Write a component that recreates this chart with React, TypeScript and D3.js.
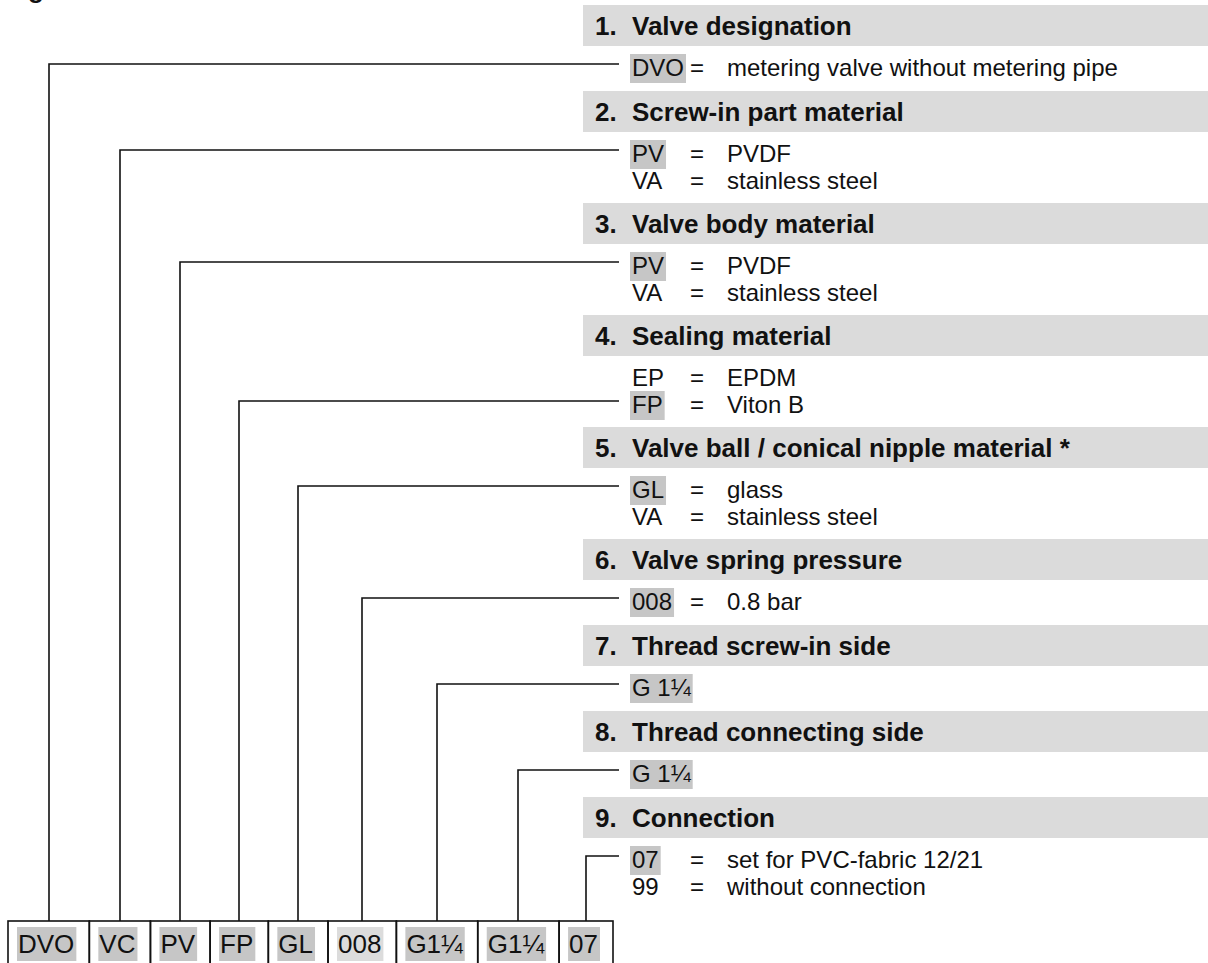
import { useEffect, useRef } from "react";
import * as d3 from "d3";

// section headings on the right
const sectionNumbers = ["1.", "2.", "3.", "4.", "5.", "6.", "7.", "8.", "9."];
const sectionTitles = [
    "Valve designation",
    "Screw-in part material",
    "Valve body material",
    "Sealing material",
    "Valve ball / conical nipple material *",
    "Valve spring pressure",
    "Thread screw-in side",
    "Thread connecting side",
    "Connection",
];

// options listed under each heading
const optionCodes = [
    ["DVO"],
    ["PV", "VA"],
    ["PV", "VA"],
    ["EP", "FP"],
    ["GL", "VA"],
    ["008"],
    ["G 1¼"],
    ["G 1¼"],
    ["07", "99"],
];
const optionTexts = [
    ["metering valve without metering pipe"],
    ["PVDF", "stainless steel"],
    ["PVDF", "stainless steel"],
    ["EPDM", "Viton B"],
    ["glass", "stainless steel"],
    ["0.8 bar"],
    [""],
    [""],
    ["set for PVC-fabric 12/21", "without connection"],
];
// which option of each section is picked (highlighted + linked)
const selectedOption = [0, 0, 0, 1, 0, 0, 0, 0, 0];

// the order code boxes at the bottom
const orderCode = ["DVO", "VC", "PV", "FP", "GL", "008", "G1¼", "G1¼", "07"];

const W = 1208;
const H = 963;
const FONT = "'Liberation Sans', Arial, Helvetica, sans-serif";

export default function App() {
    const svgRef = useRef<SVGSVGElement>(null);

    useEffect(() => {
        if (!svgRef.current) return;
        const svg = d3.select(svgRef.current);
        svg.selectAll("*").remove();

        const ctx = document.createElement("canvas").getContext("2d")!;
        const measure = (t: string, size: number, weight = "normal") => {
            ctx.font = `${weight} ${size}px 'Liberation Sans', Arial, sans-serif`;
            return ctx.measureText(t).width;
        };

        // ---- right column layout
        const barLeft = 583;
        const barH = 41;
        const rowGap = 27;
        const blockH = optionCodes.map((c) => 60 + 26 * c.length);
        const blockTop = blockH.map((_, i) => 5 + (d3.sum(blockH.slice(0, i)) || 0));
        const codeX = 632;
        const eqX = 690;
        const descX = 727;
        const itemSize = 24;

        const right = svg.append("g").attr("font-family", FONT);

        // partial glyph cut off at the top edge
        svg.append("text")
            .attr("x", 28)
            .attr("y", -2)
            .attr("font-family", FONT)
            .attr("font-size", 26)
            .attr("font-weight", "bold")
            .attr("fill", "#111")
            .text("g");

        const linkY: number[] = [];

        sectionTitles.forEach((title, i) => {
            const T = blockTop[i];
            right.append("rect")
                .attr("x", barLeft)
                .attr("y", T)
                .attr("width", W - barLeft)
                .attr("height", barH)
                .attr("fill", "#dbdbdb");
            right.append("text")
                .attr("x", 595)
                .attr("y", T + 30)
                .attr("font-size", 26)
                .attr("font-weight", "bold")
                .attr("fill", "#111")
                .text(sectionNumbers[i]);
            right.append("text")
                .attr("x", codeX)
                .attr("y", T + 30)
                .attr("font-size", 26)
                .attr("font-weight", "bold")
                .attr("fill", "#111")
                .text(title);

            optionCodes[i].forEach((code, k) => {
                const base = T + 71 + rowGap * k;
                const cw = measure(code, itemSize);
                if (k === selectedOption[i]) {
                    right.append("rect")
                        .attr("x", codeX - 2)
                        .attr("y", base - 22)
                        .attr("width", cw + 4)
                        .attr("height", 29)
                        .attr("fill", "#c6c6c6");
                    linkY[i] = base - 12;
                }
                right.append("text")
                    .attr("x", codeX)
                    .attr("y", base)
                    .attr("font-size", itemSize)
                    .attr("fill", "#111")
                    .text(code);
                const desc = optionTexts[i][k];
                if (desc) {
                    right.append("text")
                        .attr("x", Math.max(eqX, codeX + cw + 2))
                        .attr("y", base)
                        .attr("font-size", itemSize)
                        .attr("fill", "#111")
                        .text("=");
                    right.append("text")
                        .attr("x", descX)
                        .attr("y", base)
                        .attr("font-size", itemSize)
                        .attr("fill", "#111")
                        .text(desc);
                }
            });
        });

        // ---- order code boxes
        const boxTop = 921;
        const boxSize = 26;
        const widths = orderCode.map((c) => measure(c, boxSize) + 25);
        const edges = [0, ...d3.cumsum(widths)];
        const x = d3.scaleLinear().domain([0, d3.sum(widths)]).range([8, 613]);

        const boxes = svg.append("g").attr("font-family", FONT);
        orderCode.forEach((code, i) => {
            const x0 = x(edges[i]);
            const x1 = x(edges[i + 1]);
            const tw = measure(code, boxSize);
            boxes.append("rect")
                .attr("x", x0 + 9)
                .attr("y", boxTop + 6)
                .attr("width", tw + 3)
                .attr("height", 34)
                .attr("fill", i === 5 ? "#dcdcdc" : "#c6c6c6");
            boxes.append("text")
                .attr("x", x0 + 10)
                .attr("y", boxTop + 32)
                .attr("font-size", boxSize)
                .attr("fill", "#111")
                .text(code);
            boxes.append("rect")
                .attr("x", x0)
                .attr("y", boxTop)
                .attr("width", x1 - x0)
                .attr("height", 80)
                .attr("fill", "none")
                .attr("stroke", "#111")
                .attr("stroke-width", 1.6);

            // connector from box up to the picked option
            const cx = Math.round((x0 + x1) / 2);
            svg.append("path")
                .attr(
                    "d",
                    d3.line()([
                        [cx, boxTop],
                        [cx, linkY[i]],
                        [619, linkY[i]],
                    ]) as string,
                )
                .attr("fill", "none")
                .attr("stroke", "#111")
                .attr("stroke-width", 1.6);
        });
    }, []);

    return (
        <svg
            ref={svgRef}
            width={W}
            height={H}
            style={{ position: "absolute", left: 0, top: 0, background: "#fff" }}
        ></svg>
    );
}
